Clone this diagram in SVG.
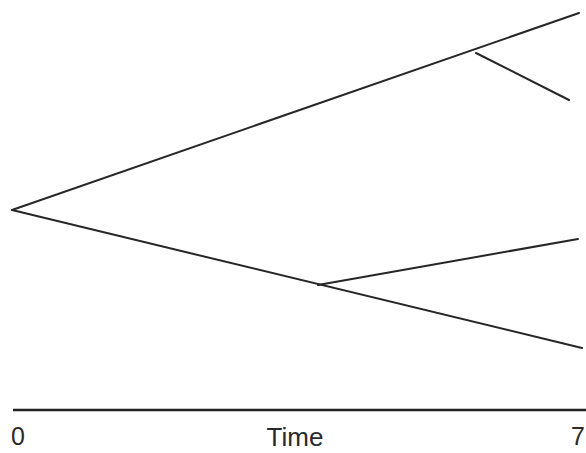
<svg xmlns="http://www.w3.org/2000/svg" width="586" height="453" viewBox="0 0 586 453">
<style>
.br{stroke:#262626;stroke-width:2;fill:none;stroke-linecap:round}
.ax{stroke:#222;stroke-width:2.5;fill:none}
.lb{font-family:"Liberation Sans",Arial,sans-serif;fill:#2a2a2a}
</style>
<rect width="586" height="453" fill="#ffffff"/>
<g id="connectors">
<line class="br" x1="12" y1="210" x2="579" y2="13"/>
<line class="br" x1="476" y1="53" x2="569" y2="100"/>
<line class="br" x1="12" y1="210" x2="582" y2="348"/>
<line class="br" x1="318" y1="285" x2="578" y2="239"/>
</g>
<g id="axis">
<line class="ax" x1="13" y1="410" x2="586" y2="410"/>
<text id="label-0" class="lb" x="11" y="445" font-size="25">0</text>
<text id="label-time" class="lb" x="295" y="446" font-size="26" text-anchor="middle">Time</text>
<text id="label-7" class="lb" x="571" y="445" font-size="25">7</text>
</g>
</svg>
